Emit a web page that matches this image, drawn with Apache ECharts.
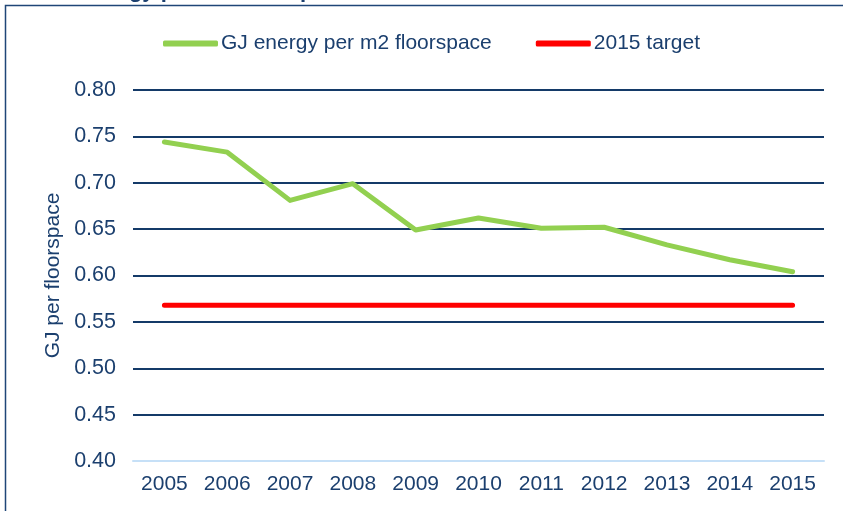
<!DOCTYPE html>
<html>
<head>
<meta charset="utf-8">
<script src="https://cdn.jsdelivr.net/npm/echarts@6/dist/echarts.min.js"></script>
<style>html,body{margin:0;padding:0;background:#fff;}#c{width:843px;height:511px;}</style>
</head>
<body>
<div id="c"></div>
<script>
const years = ['2005','2006','2007','2008','2009','2010','2011','2012','2013','2014','2015'];
const energyPerM2 = [0.744, 0.733, 0.681, 0.699, 0.649, 0.662, 0.651, 0.652, 0.633, 0.617, 0.604];
const target2015 = [0.568, 0.568, 0.568, 0.568, 0.568, 0.568, 0.568, 0.568, 0.568, 0.568, 0.568];
const seriesNames = ['GJ energy per m2 floorspace', '2015 target'];
const yAxisName = 'GJ per floorspace';
const titleText = 'Energy performance per m2';

const dark = '#1B3F6E';
const font = 'Arial, "Liberation Sans", sans-serif';
const chart = echarts.init(document.getElementById('c'));
chart.setOption({
  animation: false,
  backgroundColor: '#fff',
  graphic: [
    { type: 'rect', shape: { x: 5.5, y: 5.5, width: 1000, height: 1000 }, style: { fill: 'none', stroke: '#1F4677', lineWidth: 1.5 }, z: 0 },
    { type: 'text', left: 80, top: -20, style: { text: titleText, font: 'bold 22px ' + font, fill: dark } }
  ],
  legend: {
    top: 28, left: 158,
    itemWidth: 55, itemHeight: 6, itemGap: 44,
    icon: 'roundRect',
    textStyle: { color: dark, fontSize: 21, fontFamily: font, padding: [0,0,0,-2] },
    data: seriesNames
  },
  grid: { left: 133, right: 19, top: 90, bottom: 50 },
  xAxis: {
    type: 'category', data: years, boundaryGap: true,
    axisLine: { show: true, lineStyle: { color: '#C6E0F7', width: 2 } },
    axisTick: { show: false },
    axisLabel: { color: dark, fontSize: 21, fontFamily: font, margin: 13 }
  },
  yAxis: {
    type: 'value', min: 0.4, max: 0.8, interval: 0.05,
    name: yAxisName, nameLocation: 'middle', nameGap: 69, nameRotate: 90,
    nameTextStyle: { color: dark, fontSize: 21, fontFamily: font },
    axisLine: { show: false }, axisTick: { show: false },
    axisLabel: { color: dark, fontSize: 21.5, fontFamily: font, margin: 17, formatter: v => v.toFixed(2) },
    splitLine: { lineStyle: { color: '#143A68', width: 2 } }
  },
  series: [
    { name: seriesNames[0], type: 'line', data: energyPerM2, symbol: 'none', color: '#92D050',
      lineStyle: { width: 5, color: '#92D050', cap: 'round', join: 'round' }, z: 3 },
    { name: seriesNames[1], type: 'line', data: target2015, symbol: 'none', color: '#FF0000',
      lineStyle: { width: 5, color: '#FF0000', cap: 'round' }, z: 2 }
  ]
});
</script>
</body>
</html>
